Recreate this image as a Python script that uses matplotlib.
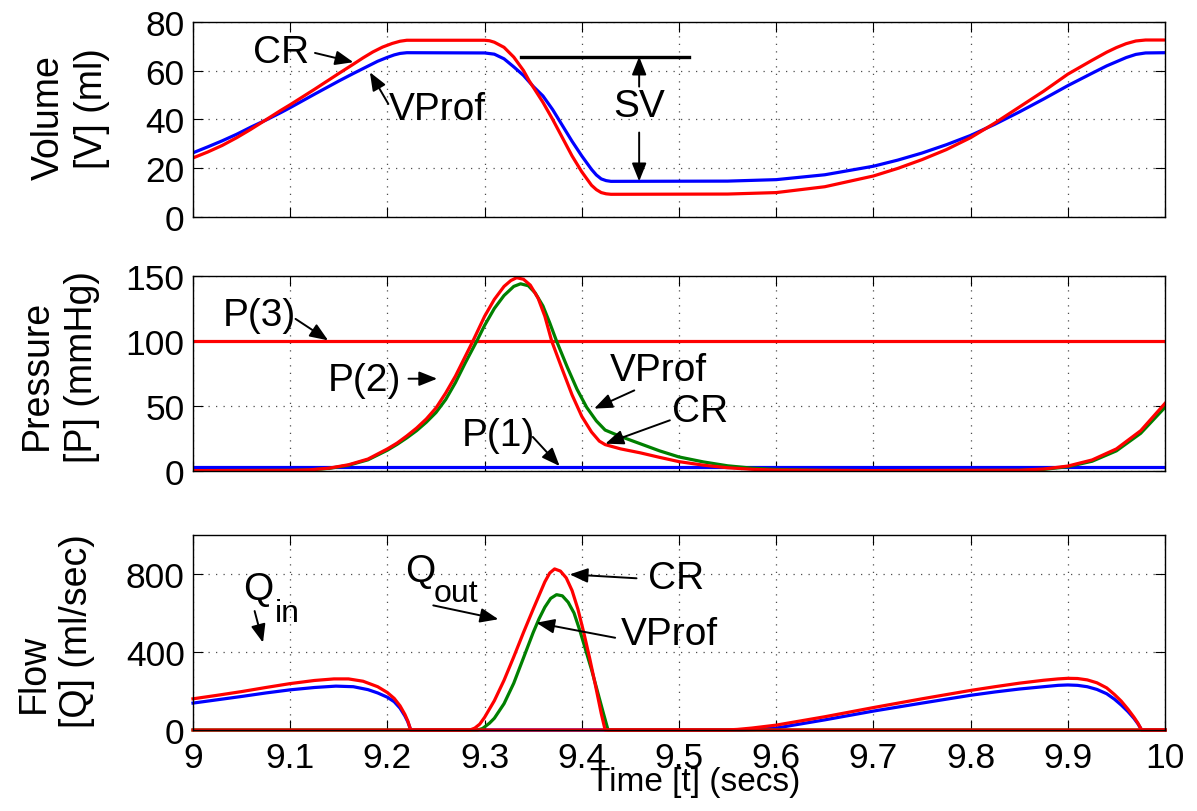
#!/usr/bin/env python3
"""
Ventricle volume / pressure / flow over one cardiac cycle (t = 9..10 s),
CR model vs. VProf model. Three stacked MATLAB-style panels.
"""
import matplotlib
matplotlib.use("Agg")
import matplotlib.pyplot as plt

# ---- data --------------------------------------------------------------
T_ENDS = [9.0, 10.0]

# volume [ml]
T_VOL_CR = [9.00, 9.015, 9.03, 9.045, 9.059, 9.075, 9.09, 9.10, 9.125, 9.15, 9.165,
            9.175, 9.185, 9.195, 9.205, 9.213, 9.22, 9.30, 9.305, 9.31, 9.32, 9.33,
            9.34, 9.346, 9.36, 9.37, 9.38, 9.39, 9.40, 9.41, 9.415, 9.42, 9.425, 9.43,
            9.55, 9.60, 9.65, 9.70, 9.725, 9.75, 9.775, 9.80, 9.825, 9.85, 9.875,
            9.90, 9.925, 9.94, 9.95, 9.96, 9.97, 9.98, 10.0]
VOL_CR = [24.2, 26.6, 29.3, 32.5, 35.8, 39.8, 43.6, 46.0, 52.3, 58.8, 62.6,
          65.2, 67.6, 69.6, 71.1, 72.0, 72.4, 72.4, 72.2, 71.6, 69.5, 65.5,
          60.0, 55.7, 47.0, 40.0, 32.5, 25.0, 18.5, 13.0, 11.2, 10.0, 9.5, 9.3,
          9.4, 10.0, 12.4, 16.8, 19.9, 23.5, 27.6, 32.5, 38.5, 45.0, 51.5,
          58.5, 64.2, 67.5, 69.4, 71.0, 72.1, 72.5, 72.5]
T_VOL_VPROF = [9.00, 9.015, 9.03, 9.045, 9.06, 9.075, 9.09, 9.10, 9.125, 9.15, 9.165,
               9.18, 9.19, 9.20, 9.207, 9.213, 9.22, 9.30, 9.31, 9.32, 9.33, 9.34,
               9.35, 9.36, 9.37, 9.38, 9.39, 9.40, 9.41, 9.415, 9.42, 9.425, 9.43,
               9.55, 9.60, 9.65, 9.70, 9.725, 9.75, 9.775, 9.80, 9.825, 9.85, 9.875,
               9.90, 9.925, 9.94, 9.95, 9.96, 9.97, 9.98, 10.0]
VOL_VPROF = [26.3, 28.7, 31.2, 33.9, 36.9, 39.7, 42.7, 44.8, 50.3, 55.7, 58.8,
             61.8, 63.8, 65.4, 66.4, 67.0, 67.3, 67.2, 66.7, 64.8, 61.5, 58.0,
             53.5, 49.6, 44.0, 37.5, 31.0, 25.0, 19.5, 17.2, 15.6, 14.9, 14.6,
             14.7, 15.3, 17.3, 20.8, 23.3, 26.2, 29.6, 33.4, 38.0, 43.0, 48.3,
             53.8, 58.9, 61.9, 63.6, 65.3, 66.6, 67.2, 67.3]
SV_TOP = 65.7
SV_BOTTOM = 14.6

# pressure [mmHg]
P1_LEVEL = [3.0, 3.0]
P3_LEVEL = [100.0, 100.0]
T_P2_CR = [9.00, 9.10, 9.12, 9.14, 9.16, 9.18, 9.20, 9.21, 9.22, 9.23, 9.24, 9.25,
           9.26, 9.27, 9.28, 9.288, 9.30, 9.31, 9.32, 9.327, 9.333, 9.34, 9.347,
           9.355, 9.362, 9.369, 9.38, 9.39, 9.40, 9.41, 9.418, 9.424, 9.44, 9.46,
           9.48, 9.50, 9.525, 9.55, 9.575, 9.60, 9.70, 9.85, 9.875, 9.90, 9.925,
           9.95, 9.975, 10.0]
P2_CR = [0.3, 0.5, 0.9, 2.2, 4.8, 9.2, 17.0, 21.5, 27.0, 33.0, 40.0, 48.5,
         60.0, 73.0, 88.0, 100.0, 119.0, 132.0, 142.0, 146.5, 148.7, 147.5, 143.0,
         133.0, 119.0, 100.0, 78.0, 58.5, 42.0, 30.0, 23.0, 20.3, 17.0, 14.0,
         10.5, 7.2, 4.5, 2.5, 1.3, 0.7, 0.3, 0.6, 1.5, 3.8, 8.5,
         17.0, 31.0, 52.0]
T_P2_VPROF = [9.00, 9.10, 9.12, 9.14, 9.16, 9.18, 9.20, 9.21, 9.22, 9.23, 9.24, 9.25,
              9.26, 9.27, 9.28, 9.292, 9.30, 9.31, 9.32, 9.33, 9.337, 9.345, 9.352,
              9.36, 9.367, 9.374, 9.385, 9.395, 9.405, 9.415, 9.424, 9.44, 9.46,
              9.48, 9.50, 9.525, 9.55, 9.575, 9.60, 9.65, 9.70, 9.85, 9.875, 9.90,
              9.925, 9.95, 9.975, 10.0]
P2_VPROF = [0.3, 0.5, 0.8, 2.0, 4.4, 8.6, 16.0, 20.5, 25.5, 31.0, 37.5, 45.0,
            55.0, 68.0, 83.0, 100.0, 112.0, 125.0, 135.0, 142.0, 144.0, 142.5, 137.0,
            127.0, 114.0, 100.0, 80.0, 63.0, 49.0, 38.5, 31.5, 26.5, 21.0,
            15.5, 10.8, 7.0, 4.0, 2.2, 1.2, 0.5, 0.3, 0.5, 1.2, 3.3,
            7.5, 15.5, 29.0, 49.0]

# flow [ml/sec]
T_QIN_CR = [9.00, 9.025, 9.05, 9.075, 9.10, 9.125, 9.145, 9.16, 9.175, 9.19, 9.20,
            9.207, 9.213, 9.218, 9.221, 9.224, 9.548, 9.56, 9.575, 9.60, 9.65, 9.70,
            9.75, 9.80, 9.825, 9.85, 9.875, 9.89, 9.90, 9.91, 9.92, 9.93, 9.94,
            9.948, 9.955, 9.962, 9.968, 9.972, 9.976, 10.0]
QIN_CR = [160, 178, 197, 218, 238, 254, 262, 262, 250, 222, 192,
          162, 124, 80, 46, 0, 0, 3, 10, 25, 68, 115,
          160, 203, 222, 240, 255, 262, 265, 264, 257, 242, 216,
          182, 148, 106, 66, 36, 0, 0]
T_QIN_VPROF = [9.00, 9.025, 9.05, 9.075, 9.10, 9.125, 9.147, 9.165, 9.18, 9.19, 9.20,
               9.207, 9.213, 9.218, 9.221, 9.224, 9.565, 9.58, 9.60, 9.65, 9.70, 9.75,
               9.80, 9.825, 9.85, 9.875, 9.89, 9.90, 9.91, 9.92, 9.93, 9.94, 9.948,
               9.955, 9.962, 9.968, 9.972, 9.976, 10.0]
QIN_VPROF = [138, 155, 172, 190, 206, 218, 225, 222, 207, 190, 168,
             145, 112, 72, 42, 0, 0, 3, 10, 52, 97, 138,
             178, 195, 210, 222, 229, 231, 229, 222, 208, 186, 158,
             128, 94, 60, 33, 0, 0]
T_QOUT_CR = [9.00, 9.285, 9.29, 9.295, 9.30, 9.31, 9.32, 9.33, 9.34, 9.35, 9.356,
             9.362, 9.367, 9.372, 9.378, 9.384, 9.39, 9.396, 9.402, 9.408, 9.414,
             9.42, 9.424, 10.0]
QOUT_CR = [0, 0, 10, 30, 65, 150, 255, 375, 500, 620, 690,
           760, 805, 826, 815, 780, 715, 620, 500, 370, 230,
           85, 0, 0]
T_QOUT_VPROF = [9.00, 9.293, 9.298, 9.305, 9.31, 9.32, 9.33, 9.34, 9.35, 9.356, 9.362,
                9.368, 9.374, 9.38, 9.386, 9.392, 9.398, 9.404, 9.41, 9.416, 9.422,
                9.427, 10.0]
QOUT_VPROF = [0, 0, 8, 35, 60, 135, 240, 370, 500, 570, 630,
              675, 694, 688, 655, 600, 510, 410, 310, 200, 90,
              0, 0]

X_TICKS = [9.0, 9.1, 9.2, 9.3, 9.4, 9.5, 9.6, 9.7, 9.8, 9.9, 10.0]
X_TICK_LABELS = ["9", "9.1", "9.2", "9.3", "9.4", "9.5", "9.6", "9.7", "9.8", "9.9", "10"]
VOL_TICKS = [0, 20, 40, 60, 80]
P_TICKS = [0, 50, 100, 150]
Q_TICKS = [0, 400, 800]

RED = "#ff0000"
BLUE = "#0000ff"
GREEN = "#008000"
LW = 2.3
ANN = 28  # annotation font size
ARROW = dict(arrowstyle="-|>,head_length=0.55,head_width=0.22", color="k", lw=1.4,
             mutation_scale=20, shrinkA=0, shrinkB=0)

W, H = 1197, 812


def style_axes(ax, ylim, yticks, show_xlabels):
    ax.set_xlim(9, 10)
    ax.set_ylim(*ylim)
    ax.set_xticks(X_TICKS)
    ax.set_yticks(yticks)
    if show_xlabels:
        ax.set_xticklabels(X_TICK_LABELS)
    else:
        ax.set_xticklabels([])
    ax.tick_params(direction="in", length=7, width=0.8, top=True, right=True,
                   labelsize=25.5)
    ax.tick_params(axis="x", pad=8)
    ax.tick_params(axis="y", pad=6)
    ax.grid(True, linestyle=(0, (1, 5)), color="0.3", lw=0.9)
    for sp in ax.spines.values():
        sp.set_linewidth(1.0)


def arrow(ax, tail, tip):
    ax.annotate("", xy=tip, xytext=tail, arrowprops=ARROW)


def px(x, y):
    return x / W, 1 - y / H


def main():
    plt.rcParams["font.family"] = ["Liberation Sans", "DejaVu Sans"]
    fig = plt.figure(figsize=(W / 100, H / 100), dpi=100)

    left, width = 193 / W, (1165 - 193) / W
    ax1 = fig.add_axes([left, (H - 218) / H, width, 195.3 / H])
    ax2 = fig.add_axes([left, (H - 472) / H, width, 195 / H])
    ax3 = fig.add_axes([left, (H - 731) / H, width, 195 / H])

    # volume
    ax1.plot(T_VOL_VPROF, VOL_VPROF, color=BLUE, lw=LW)
    ax1.plot(T_VOL_CR, VOL_CR, color=RED, lw=LW)
    ax1.plot([9.337, 9.510], [SV_TOP, SV_TOP], color="k", lw=2.4)
    style_axes(ax1, (0, 80), VOL_TICKS, False)
    ax1.text(9.062, 67.5, "CR", fontsize=ANN, va="center", ha="left")
    arrow(ax1, (9.1255, 67.2), (9.165, 63.4))
    ax1.text(9.201, 44.1, "VProf", fontsize=ANN, va="center", ha="left")
    arrow(ax1, (9.201, 46.3), (9.182, 59.3))
    ax1.text(9.459, 45.5, "SV", fontsize=ANN, va="center", ha="center")
    arrow(ax1, (9.459, 53.4), (9.459, SV_TOP))
    arrow(ax1, (9.459, 34.6), (9.459, SV_BOTTOM))

    # pressure
    ax2.plot(T_ENDS, P3_LEVEL, color=RED, lw=LW)
    ax2.plot(T_ENDS, P1_LEVEL, color=BLUE, lw=LW)
    ax2.plot(T_P2_VPROF, P2_VPROF, color=GREEN, lw=LW)
    ax2.plot(T_P2_CR, P2_CR, color=RED, lw=LW)
    style_axes(ax2, (0, 150), P_TICKS, False)
    ax2.text(9.031, 119.7, "P(3)", fontsize=ANN, va="center", ha="left")
    arrow(ax2, (9.1055, 117), (9.139, 100.5))
    ax2.text(9.139, 69.7, "P(2)", fontsize=ANN, va="center", ha="left")
    arrow(ax2, (9.2217, 71), (9.2512, 71))
    ax2.text(9.277, 27.4, "P(1)", fontsize=ANN, va="center", ha="left")
    arrow(ax2, (9.3496, 26.2), (9.3772, 3.8))
    ax2.text(9.4288, 78, "VProf", fontsize=ANN, va="center", ha="left")
    arrow(ax2, (9.454, 62), (9.4127, 48))
    ax2.text(9.4929, 46, "CR", fontsize=ANN, va="center", ha="left")
    arrow(ax2, (9.4906, 39), (9.4242, 21))

    # flow
    ax3.plot(T_QIN_VPROF, QIN_VPROF, color=BLUE, lw=LW, clip_on=False)
    ax3.plot(T_QOUT_VPROF, QOUT_VPROF, color=GREEN, lw=LW, clip_on=False)
    ax3.plot(T_QIN_CR, QIN_CR, color=RED, lw=LW, clip_on=False)
    ax3.plot(T_QOUT_CR, QOUT_CR, color=RED, lw=LW, clip_on=False)
    style_axes(ax3, (0, 1000), Q_TICKS, True)
    ax3.text(9.052, 721, "Q", fontsize=ANN, va="center", ha="left")
    ax3.text(9.084, 602, "in", fontsize=23, va="center", ha="left")
    arrow(ax3, (9.0634, 610), (9.072, 448))
    ax3.text(9.218, 815, "Q", fontsize=ANN, va="center", ha="left")
    ax3.text(9.248, 704, "out", fontsize=23, va="center", ha="left")
    arrow(ax3, (9.2472, 639), (9.3142, 568))
    ax3.text(9.4676, 781, "CR", fontsize=ANN, va="center", ha="left")
    arrow(ax3, (9.4563, 778), (9.3875, 798))
    ax3.text(9.4402, 491, "VProf", fontsize=ANN, va="center", ha="left")
    arrow(ax3, (9.4343, 473), (9.3532, 550))

    # y labels (two lines each, placed like MATLAB did)
    ylabels = [
        ("Volume", 49, 118), ("[V] (ml)", 92, 109),
        ("Pressure", 37, 375), ("[P] (mmHg)", 82, 367),
        ("Flow", 34, 673), ("[Q] (ml/sec)", 77, 631),
    ]
    for txt, x, y in ylabels:
        fx, fy = px(x, y)
        fig.text(fx, fy, txt, fontsize=27, rotation=90, ha="center", va="center")

    # MATLAB put the x label right on top of the tick labels; keep that
    fx, fy = px(695, 791)
    fig.text(fx, fy, "Time [t] (secs)", fontsize=24, ha="center", va="baseline")

    fig.savefig("out.png", dpi=100)
    plt.close(fig)


if __name__ == "__main__":
    main()
